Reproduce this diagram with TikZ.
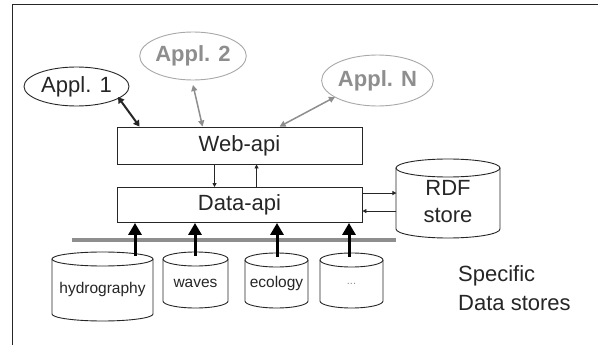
\documentclass[tikz,border=0pt]{standalone}
\usepackage{fontspec}
\setmainfont{Liberation Sans}
\usetikzlibrary{arrows.meta,calc,shapes.geometric}
\definecolor{ink}{HTML}{262626}
\definecolor{lgray}{HTML}{8E8E8E}
\definecolor{egray}{HTML}{A8A8A8}
\tikzset{
  frame/.style={draw=ink,line width=1.3pt},
  appl/.style={ellipse,draw=ink,line width=0.9pt,minimum width=105pt,inner sep=0pt,font=\fontsize{22}{24}\selectfont,text=ink},
  applg/.style={ellipse,draw=egray,line width=0.9pt,minimum width=105pt,inner sep=0pt,font=\fontsize{22}{24}\selectfont\bfseries,text=lgray},
  apibox/.style={draw=ink,line width=0.9pt,inner sep=0pt,font=\fontsize{22}{24}\selectfont,text=ink},
  cylline/.style={draw=ink,line width=0.9pt},
  cyltext/.style={font=\fontsize{15.5}{17}\selectfont,text=ink,inner sep=0pt},
  blackdbl/.style={draw=ink,line width=2pt,{Triangle[length=6pt,width=7pt]}-{Triangle[length=6pt,width=7pt]}},
  graydbl/.style={draw=lgray,line width=1.5pt,{Triangle[length=6pt,width=6pt]}-{Triangle[length=6pt,width=6pt]}},
  thinarrow/.style={draw=ink,line width=0.8pt,-{Triangle[length=4pt,width=4pt]}},
  bigarrow/.style={draw=black,line width=3pt,-{Triangle[length=12pt,width=13pt]}},
  bus/.style={draw=lgray,line width=3.5pt},
  bigtext/.style={font=\fontsize{22}{29}\selectfont,text=ink,inner sep=0pt}
}
% #1 name, #2 cx, #3 rx, #4 ytop, #5 ybot, #6 ry, #7 label, #8 style
\newcommand\dbcyl[8]{%
  \draw[cylline] ({#2-#3},{#4+#6}) -- ({#2-#3},{#5-#6})
    arc[start angle=180,end angle=360,x radius=#3pt,y radius=#6pt]
    -- ({#2+#3},{#4+#6});
  \draw[cylline] (#2,{#4+#6}) ellipse[x radius=#3pt,y radius=#6pt];
  \coordinate (#1-top) at (#2,{#4+4});
  \node[#8] (#1) at (#2,{(#4+#5)/2+3}) {#7};
}
\begin{document}
\begin{tikzpicture}[x=1pt,y=-1pt]
\useasboundingbox (0,0) rectangle (598,345);
\fill[white] (0,0) rectangle (598,345);
% frame
\draw[frame] (12.5,345) -- (12.5,4.5) -- (598,4.5);
% applications
\node[appl,minimum height=39pt] (a1) at (76.5,86.5) {Appl. 1};
\node[applg,minimum height=48pt] (a2) at (193,56) {Appl. 2};
\node[applg,minimum height=51pt] (an) at (377.5,80.5) {Appl. N};
% api boxes
\node[apibox,minimum width=245pt,minimum height=37pt] (web) at (239.5,145.5) {Web-api};
\node[apibox,minimum width=245pt,minimum height=35pt] (data) at (239.5,205) {Data-api};
% arrows appl <-> web
\draw[blackdbl] ($(a1.center)+(41.5,10.5)$) -- ($(web.north west)+(23,0)$);
\draw[graydbl] ($(a2.center)+(0,29)$) -- ($(web.north west)+(86,0)$);
\draw[graydbl] ($(web.north west)+(163,0)$) -- ($(an.center)+(-42.5,16.5)$);
% web <-> data
\draw[thinarrow] ($(web.south west)+(98,0)$) -- ($(data.north west)+(98,0)$);
\draw[thinarrow] ($(data.north west)+(140,0)$) -- ($(web.south west)+(140,0)$);
% RDF store
\dbcyl{rdf}{448}{52}{159}{238}{9}{RDF\\[-2pt]store}{bigtext,align=center}
\draw[thinarrow] ($(data.north east)+(0,6)$) -- ($(data.north east)+(34,6)$);
\draw[thinarrow] ($(data.north east)+(34,24)$) -- ($(data.north east)+(0,24)$);
% bus
\draw[bus] ($(data.south west)+(-45,17)$) -- ($(data.south east)+(34,17)$);
% data stores
\dbcyl{hyd}{102.5}{50.5}{252}{321}{7}{hydrography}{cyltext}
\dbcyl{wav}{195.5}{32.5}{252}{308}{7}{waves}{cyltext}
\dbcyl{eco}{276.5}{31.5}{253}{308}{7}{ecology}{cyltext}
\dbcyl{dots}{351.5}{31.5}{253}{308}{7}{\textcolor{lgray}{\fontsize{11}{12}\selectfont ...}}{cyltext}
% big arrows
\draw[bigarrow] ($(hyd-top)+(32.5,0)$) coordinate (s1) -- (s1 |- data.south);
\draw[bigarrow] ($(wav-top)+(-0.5,0)$) coordinate (s2) -- (s2 |- data.south);
\draw[bigarrow] ($(eco-top)+(0.5,0)$) coordinate (s3) -- (s3 |- data.south);
\draw[bigarrow] ($(dots-top)+(-2.5,0)$) coordinate (s4) -- (s4 |- data.south);
% caption
\node[bigtext,align=left,anchor=west] (spec) at (458,288) {Specific\\Data stores};
\end{tikzpicture}
\end{document}
